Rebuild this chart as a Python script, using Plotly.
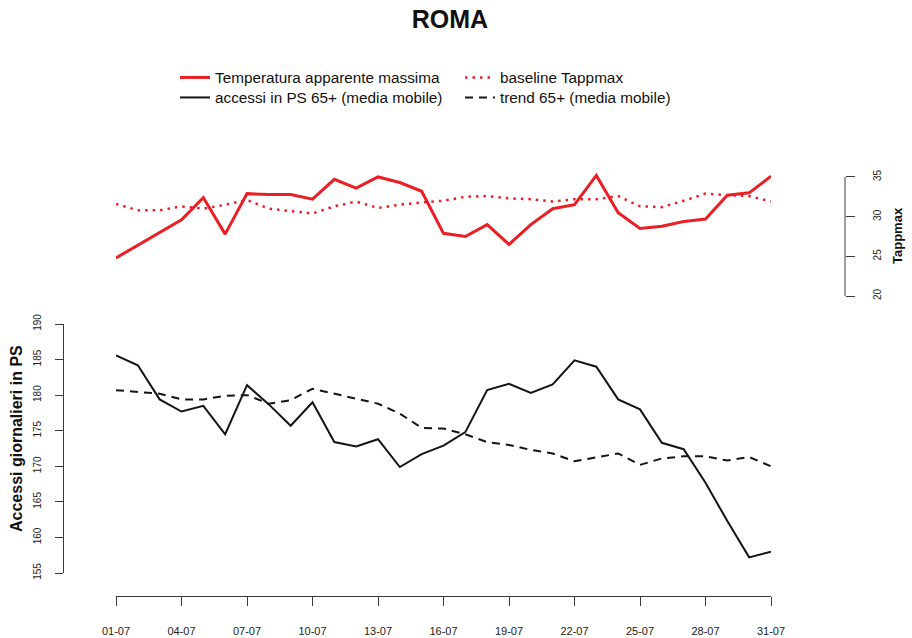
import plotly.graph_objects as go

# Days of July 2018 (1..31) and tick labels
days = list(range(1, 32))
tick_days = [1, 4, 7, 10, 13, 16, 19, 22, 25, 28, 31]
tick_labels = ["01-07", "04-07", "07-07", "10-07", "13-07", "16-07",
               "19-07", "22-07", "25-07", "28-07", "31-07"]

# Maximum apparent temperature (°C) and its baseline
tappmax = [24.8, 26.4, 28.0, 29.6, 32.4, 27.8, 32.9, 32.8, 32.8, 32.2,
           34.7, 33.6, 35.0, 34.3, 33.2, 27.9, 27.5, 29.0, 26.5, 29.0,
           31.0, 31.5, 35.2, 30.5, 28.5, 28.8, 29.4, 29.7, 32.7, 33.0, 35.1]
baseline_tappmax = [31.6, 30.8, 30.8, 31.3, 31.0, 31.5, 32.1, 31.0, 30.7, 30.4,
                    31.3, 31.9, 31.1, 31.5, 31.8, 32.0, 32.5, 32.6, 32.3, 32.2,
                    31.9, 32.2, 32.2, 32.6, 31.3, 31.2, 32.0, 32.9, 32.7, 32.6, 31.9]

# Daily ER visits, age 65+ (moving average) and expected trend
accessi_65 = [185.6, 184.2, 179.4, 177.7, 178.5, 174.5, 181.4, 178.7, 175.7, 179.0,
              173.4, 172.8, 173.8, 169.9, 171.7, 172.9, 174.8, 180.7, 181.6, 180.3,
              181.5, 184.9, 184.0, 179.4, 178.0, 173.3, 172.4, 167.7, 162.3, 157.2, 158.0]
trend_65 = [180.7, 180.4, 180.2, 179.4, 179.4, 179.9, 180.0, 178.8, 179.3, 180.9,
            180.2, 179.4, 178.8, 177.4, 175.4, 175.3, 174.5, 173.4, 173.0, 172.3,
            171.8, 170.7, 171.2, 171.8, 170.2, 171.1, 171.4, 171.4, 170.8, 171.3, 170.0]

acc_ticks = [155, 160, 165, 170, 175, 180, 185, 190]
temp_ticks = [20, 25, 30, 35]

RED = "#ea1f25"
BLACK = "#141414"
AXIS = "#3a3a3a"
FONT = "Liberation Sans, Arial, sans-serif"
W, H = 912, 638
ML, MR, MT, MB = 63, 67, 170, 42
PW, PH = W - ML - MR, H - MT - MB   # plot area size in pixels


def px_x(px):
    return (px - ML) / PW


def px_y(py):
    return (H - MB - py) / PH


fig = go.Figure()

fig.add_trace(go.Scatter(
    x=days, y=tappmax, mode="lines", name="Temperatura apparente massima",
    line=dict(color=RED, width=3), yaxis="y2", legend="legend", showlegend=True))
fig.add_trace(go.Scatter(
    x=days, y=baseline_tappmax, mode="lines", name="baseline Tappmax",
    line=dict(color=RED, width=2.5, dash="2.5px,5px"), yaxis="y2",
    legend="legend2", showlegend=True))
fig.add_trace(go.Scatter(
    x=days, y=accessi_65, mode="lines", name="accessi in PS 65+ (media mobile)",
    line=dict(color=BLACK, width=2), yaxis="y", legend="legend3", showlegend=True))
fig.add_trace(go.Scatter(
    x=days, y=trend_65, mode="lines", name="trend 65+ (media mobile)",
    line=dict(color=BLACK, width=2, dash="8px,6px"), yaxis="y",
    legend="legend4", showlegend=True))

axis_common = dict(showgrid=False, zeroline=False, linecolor=AXIS, linewidth=1,
                   ticks="outside", tickcolor=AXIS, tickwidth=1, automargin=False,
                   tickfont=dict(family=FONT, size=10, color="#222222"))


def legend_box(px_left, px_top):
    return dict(font=dict(family=FONT, size=15.3, color="#111111"),
                bgcolor="rgba(0,0,0,0)", borderwidth=0,
                x=px_x(px_left), y=px_y(px_top),
                xanchor="left", yanchor="top", orientation="v", visible=True)


fig.update_layout(
    width=W, height=H,
    showlegend=True,
    margin=dict(l=ML, r=MR, t=MT, b=MB, autoexpand=False),
    paper_bgcolor="white", plot_bgcolor="white",
    font=dict(family=FONT, color="#111111"),
    title=dict(text="<b>ROMA</b>", font=dict(family=FONT, size=25, color="#111111"),
               x=450 / W, xanchor="center", xref="container",
               y=1 - 19 / H, yanchor="middle", yref="container"),
    xaxis=dict(axis_common, domain=[px_x(116), px_x(771)], range=[1, 31],
               anchor="free", position=0, showline=True, ticklen=9,
               tickvals=tick_days, ticktext=tick_labels, ticklabelstandoff=16,
               tickfont=dict(family=FONT, size=11, color="#222222")),
    yaxis=dict(axis_common, domain=[px_y(573), px_y(324)], range=[155, 190],
               anchor="free", position=0, showline=True, ticklen=8,
               tickvals=acc_ticks, tickangle=-90, ticklabelstandoff=10),
    yaxis2=dict(axis_common, domain=[px_y(300), px_y(172.2)], range=[19.5, 35.6],
                anchor="free", position=1, side="right", showline=False, ticklen=9,
                tickvals=temp_ticks, tickangle=-90, ticklabelstandoff=14),
    legend=legend_box(175, 61),
    legend2=legend_box(460, 61),
    legend3=legend_box(175, 81),
    legend4=legend_box(460, 81),
    shapes=[dict(type="line", xref="paper", yref="y2", x0=1, x1=1, y0=20, y1=35,
                 line=dict(color=AXIS, width=1))],
    annotations=[
        dict(text="<b>Accessi giornalieri in PS</b>", xref="paper", yref="paper",
             x=px_x(16), y=px_y(439), textangle=-90, showarrow=False,
             xanchor="center", yanchor="middle",
             font=dict(family=FONT, size=16, color="#111111")),
        dict(text="<b>Tappmax</b>", xref="paper", yref="paper",
             x=px_x(897), y=px_y(236), textangle=-90, showarrow=False,
             xanchor="center", yanchor="middle",
             font=dict(family=FONT, size=13, color="#111111")),
    ],
)

fig.write_html("out.html")
